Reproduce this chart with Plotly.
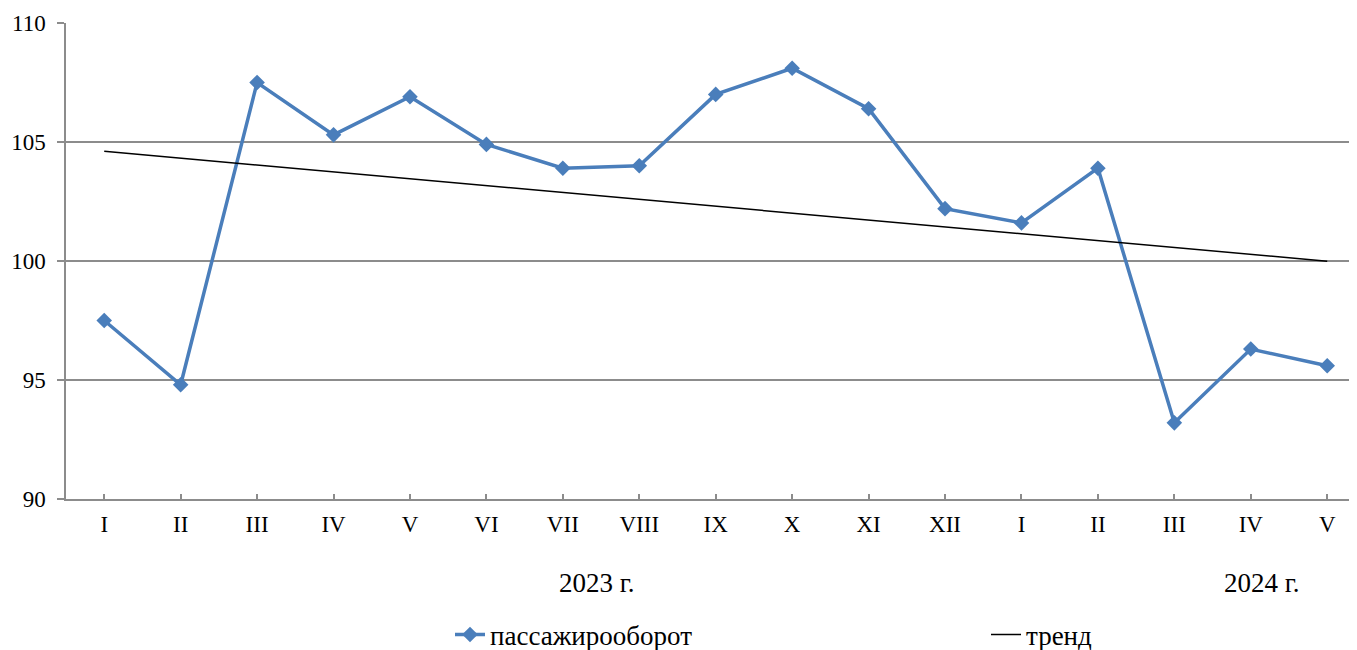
import numpy as np
import plotly.graph_objects as go

months = ["I", "II", "III", "IV", "V", "VI", "VII", "VIII", "IX", "X", "XI", "XII",
          "I", "II", "III", "IV", "V"]
values = [97.5, 94.8, 107.5, 105.3, 106.9, 104.9, 103.9, 104.0, 107.0, 108.1,
          106.4, 102.2, 101.6, 103.9, 93.2, 96.3, 95.6]
year_labels = ["2023 г.", "2024 г."]
year_label_pos = [6.45, 15.15]
y_ticks = [90, 95, 100, 105, 110]

idx = np.arange(len(values))
slope, intercept = np.polyfit(idx, values, 1)
trend = slope * idx + intercept

FONT = "Liberation Serif"
FS_TICK = 23
FS = 27
OFF = 8                      # page body margin
FW, FH = 1357 - OFF, 650 - OFF
# plot area in page pixels
PL, PT, PB = 66, 23, 499
L, T = PL - OFF, PT - OFF
H = PB - PT
W = FW - L
STEP = (1327 - 104) / 16.0
x_end = -0.5 + W / STEP

fig = go.Figure()
fig.add_trace(go.Scatter(
    x=idx, y=values, mode="lines+markers", name="пассажирооборот",
    line=dict(color="#4A7EBB", width=3.5),
    marker=dict(symbol="diamond", size=12, color="#4A7EBB"),
    legend="legend",
))
fig.add_trace(go.Scatter(
    x=idx, y=trend, mode="lines", name="тренд",
    line=dict(color="black", width=1.5),
    legend="legend2",
))

for lbl, pos in zip(year_labels, year_label_pos):
    fig.add_annotation(x=pos, xref="x", y=(PB - 583) / H, yref="paper",
                       text=lbl, showarrow=False, yanchor="middle",
                       font=dict(family=FONT, size=FS, color="black"))

leg_common = dict(orientation="h", xanchor="left", yanchor="middle",
                  y=(PB - 635) / H, bgcolor="rgba(0,0,0,0)",
                  font=dict(family=FONT, size=FS, color="black"))

fig.update_layout(
    width=FW, height=FH,
    margin=dict(l=L, r=0, t=T, b=FH - T - H, autoexpand=False),
    paper_bgcolor="white", plot_bgcolor="white",
    font=dict(family=FONT, size=FS, color="black"),
    showlegend=True,
    legend=dict(x=(490 - 40 - PL) / W, **leg_common),
    legend2=dict(x=(1027 - 41 - PL) / W, **leg_common),
    xaxis=dict(
        range=[-0.5, x_end], tickmode="array", tickvals=idx, ticktext=months,
        showgrid=False, zeroline=False, showline=True, linecolor="#8C8C8C", linewidth=1.5,
        ticks="inside", ticklen=5, tickcolor="#8C8C8C", tickwidth=1.5,
        tickfont=dict(family=FONT, size=FS_TICK, color="black"), automargin=False,
        ticklabelstandoff=4,
    ),
    yaxis=dict(
        range=[90, 110], tickmode="array", tickvals=y_ticks,
        showgrid=True, gridcolor="#8C8C8C", gridwidth=1.5,
        zeroline=False, showline=True, linecolor="#8C8C8C", linewidth=1.5,
        ticks="outside", ticklen=7, tickcolor="#8C8C8C", tickwidth=1.5,
        tickfont=dict(family=FONT, size=FS_TICK, color="black"), automargin=False,
        ticklabelstandoff=7,
    ),
)

fig.write_html("out.html")
